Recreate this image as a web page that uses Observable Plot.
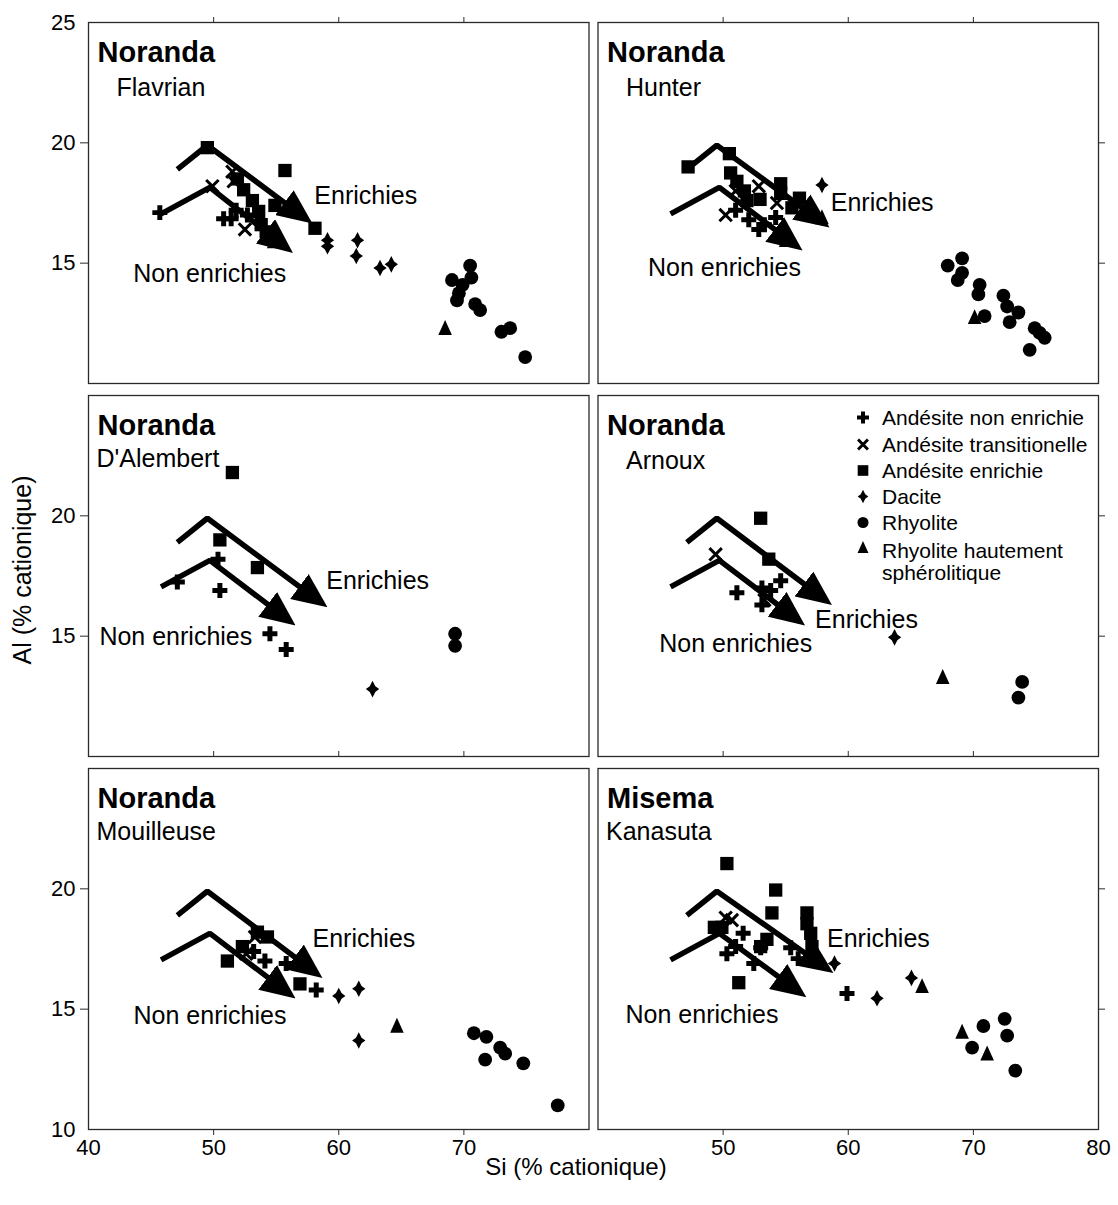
<!DOCTYPE html>
<html>
<head>
<meta charset="utf-8">
<script src="https://cdn.jsdelivr.net/npm/d3@7"></script>
<script src="https://cdn.jsdelivr.net/npm/@observablehq/plot@0.6"></script>
<style>
  body { margin: 0; background: #fff; font-family: 'Liberation Sans', Arial, Helvetica, sans-serif; }
  #wrap { position: relative; width: 1118px; height: 1205px; }
  #xtitle { position: absolute; left: 326px; width: 500px; top: 1152px; text-align: center; font-size: 24px; line-height: 30px; color: #000; }
  #ytitle { position: absolute; left: 22px; top: 570px; transform: translate(-50%, -50%) rotate(-90deg); font-size: 25px; white-space: nowrap; color: #000; }
</style>
</head>
<body>
<div id="wrap">
  <div id="chart"></div>
  <div id="xtitle">Si (% cationique)</div>
  <div id="ytitle">Al (% cationique)</div>
</div>
<script>
// ---------- data ----------
const panelGroups = ["Noranda", "Noranda", "Noranda", "Noranda", "Noranda", "Misema"];
const panelNames = ["Flavrian", "Hunter", "D'Alembert", "Arnoux", "Mouilleuse", "Kanasuta"];

const rockTypes = ["A", "T", "E", "D", "R", "S"];
const rockLabels = ["Andésite non enrichie", "Andésite transitionelle", "Andésite enrichie", "Dacite", "Rhyolite", "Rhyolite hautement\nsphérolitique"];

const xTicks = [50, 60, 70];
const yTicks = [15, 20];
const xLabelsLeft = [40, 50, 60, 70];
const xLabelsRight = [50, 60, 70, 80];

// [type, Si, Al]
const flavrian = [
  ["E",49.5,19.8],["E",55.7,18.85],["E",58.1,16.45],["E",51.9,18.5],["E",52.4,18.05],["E",53.1,17.6],["E",53.6,17.15],["E",53.8,16.6],["E",54.2,16.3],["E",54.9,17.4],
  ["A",45.7,17.1],["A",50.8,16.85],["A",51.4,16.85],["A",51.8,17.2],["A",52.7,17.0],
  ["T",49.9,18.2],["T",51.5,18.8],["T",51.6,18.4],["T",52.5,16.4],
  ["S",56.4,17.3],["S",54.8,15.9],["S",68.5,12.3],
  ["D",59.1,15.95],["D",59.1,15.7],["D",61.5,15.95],["D",61.4,15.3],["D",63.3,14.8],["D",64.2,14.95],
  ["R",69.05,14.3],["R",70.5,14.9],["R",70.6,14.4],["R",69.6,13.75],["R",69.45,13.45],["R",69.9,14.1],["R",70.9,13.3],["R",71.3,13.05],["R",73.0,12.15],["R",73.7,12.3],["R",74.9,11.1]
];
const hunter = [
  ["E",47.2,19.0],["E",50.5,19.55],["E",50.6,18.75],["E",51.1,18.4],["E",51.7,18.0],["E",52.95,17.65],["E",54.6,18.3],["E",54.6,17.9],["E",56.1,17.7],["E",55.5,17.3],["E",51.9,17.6],
  ["A",52.05,16.8],["A",52.85,16.4],["A",51.0,17.2],["A",54.2,16.9],["A",53.3,16.6],
  ["T",50.2,17.0],["T",51.0,18.0],["T",54.3,17.5],["T",52.85,18.2],
  ["D",57.9,18.25],
  ["S",57.1,17.3],["S",57.9,16.9],["S",55.0,15.95],["S",70.1,12.75],
  ["R",67.95,14.9],["R",69.1,15.2],["R",69.1,14.6],["R",68.75,14.3],["R",70.5,14.1],["R",70.4,13.7],["R",70.9,12.8],["R",72.4,13.65],["R",72.7,13.2],["R",73.6,12.95],["R",72.9,12.55],["R",74.9,12.3],["R",75.7,11.9],["R",74.5,11.4],["R",75.3,12.1]
];
const dalembert = [
  ["E",51.5,21.8],["E",50.5,19.0],["E",53.5,17.85],
  ["A",47.1,17.25],["A",50.35,18.2],["A",50.5,16.9],["A",54.5,15.1],["A",55.8,14.45],
  ["D",62.7,12.8],
  ["R",69.3,15.1],["R",69.3,14.6]
];
const arnoux = [
  ["E",53.0,19.9],["E",53.65,18.2],
  ["T",49.4,18.4],["T",53.3,16.5],
  ["A",51.1,16.8],["A",53.1,17.0],["A",53.1,16.3],["A",54.6,17.3],["A",53.8,16.9],
  ["D",63.7,14.95],
  ["S",67.55,13.3],
  ["R",73.9,13.1],["R",73.6,12.45]
];
const mouilleuse = [
  ["E",51.1,17.0],["E",52.3,17.6],["E",53.5,18.2],["E",54.3,18.0],["E",56.9,16.05],
  ["A",54.1,17.0],["A",55.8,16.9],["A",58.2,15.8],["A",53.2,17.4],
  ["T",53.3,18.0],["T",52.6,17.3],
  ["S",54.9,16.4],["S",64.65,14.3],
  ["D",60.0,15.55],["D",61.6,15.85],["D",61.6,13.7],
  ["R",70.8,14.0],["R",71.8,13.85],["R",72.9,13.4],["R",73.3,13.15],["R",71.7,12.9],["R",74.75,12.75],["R",77.5,11.0]
];
const kanasuta = [
  ["E",50.3,21.05],["E",54.2,19.95],["E",53.9,19.0],["E",49.3,18.4],["E",49.9,18.4],["E",51.25,16.1],["E",56.7,19.0],["E",56.7,18.55],["E",57.0,18.15],["E",57.1,17.6],["E",53.5,17.9],["E",53.0,17.6],
  ["T",50.2,18.8],["T",50.7,18.7],
  ["A",50.3,17.3],["A",51.6,18.15],["A",53.0,17.55],["A",52.45,16.9],["A",55.4,17.55],["A",59.9,15.65],["A",51.0,17.6],["A",56.0,17.1],
  ["D",58.9,16.9],["D",62.3,15.45],["D",65.05,16.3],
  ["S",65.9,15.95],["S",69.1,14.05],["S",71.1,13.15],
  ["R",70.8,14.3],["R",69.9,13.4],["R",72.5,14.6],["R",72.7,13.9],["R",73.35,12.45]
];
const panelPoints = [flavrian, hunter, dalembert, arnoux, mouilleuse, kanasuta];

// trend arrows: common start and bend, per-panel shaft end [Si, Al]
const enrichiesPath = [[47.1, 18.9], [49.5, 19.9]];
const enrichiesEnd = [[57.45, 16.82], [58.05, 16.65], [58.65, 16.37], [58.25, 16.47], [58.25, 16.47], [58.35, 16.67]];
const nonEnrichiesPath = [[45.8, 17.05], [49.7, 18.15]];
const nonEnrichiesEnd = [[55.9, 15.6], [55.9, 15.7], [56.1, 15.62], [56.1, 15.62], [56.1, 15.62], [56.2, 15.67]];

// annotation anchors [Si, Al] (text start, vertical middle)
const enrichiesLabel = [[58.05, 17.81], [58.6, 17.48], [59.0, 17.31], [57.35, 15.69], [57.9, 17.9], [58.3, 17.9]];
const nonEnrichiesLabel = [[43.58, 14.57], [44.0, 14.78], [40.87, 14.95], [44.9, 14.66], [43.6, 14.7], [42.2, 14.74]];

// ---------- derived tables ----------
const colOf = i => i % 2;
const rowOf = i => Math.floor(i / 2);

const points = panelPoints.flatMap((pts, i) =>
  pts.map(([type, si, al]) => ({panel: i, col: colOf(i), row: rowOf(i), type, si, al})));

const trends = [];
panelNames.forEach((_, i) => {
  [...enrichiesPath, enrichiesEnd[i]].forEach(([si, al]) => trends.push({col: colOf(i), row: rowOf(i), trend: "E" + i, si, al}));
  [...nonEnrichiesPath, nonEnrichiesEnd[i]].forEach(([si, al]) => trends.push({col: colOf(i), row: rowOf(i), trend: "N" + i, si, al}));
});

const annotations = panelNames.flatMap((_, i) => [
  {col: colOf(i), row: rowOf(i), si: enrichiesLabel[i][0], al: enrichiesLabel[i][1], text: "Enrichies"},
  {col: colOf(i), row: rowOf(i), si: nonEnrichiesLabel[i][0], al: nonEnrichiesLabel[i][1], text: "Non enrichies"}
]);

const panels = panelNames.map((name, i) => ({col: colOf(i), row: rowOf(i), group: panelGroups[i], name}));
const indentedNames = new Set(["Flavrian", "Hunter", "Arnoux"]);

const midTicks = [0, 1].flatMap(col => xTicks.map(x => ({col, row: 1, x})));
const bottomLabels = [
  ...xLabelsLeft.map(x => ({col: 0, row: 2, x})),
  ...xLabelsRight.map(x => ({col: 1, row: 2, x}))
];
const extraYLabels = [{col: 0, row: 0, y: 25}, {col: 0, row: 2, y: 10}];
const legendAnchor = [{col: 1, row: 1}];

// ---------- symbols ----------
const star4 = {
  draw(ctx, size) {
    const r = Math.sqrt(size / Math.PI);
    const a = r * 1.12, b = r * 0.9, c = r * 0.38;
    ctx.moveTo(0, -a); ctx.lineTo(c, -c); ctx.lineTo(b, 0); ctx.lineTo(c, c);
    ctx.lineTo(0, a); ctx.lineTo(-c, c); ctx.lineTo(-b, 0); ctx.lineTo(-c, -c); ctx.closePath();
  }
};
const tallTriangle = {
  draw(ctx, size) {
    const r = Math.sqrt(size / Math.PI);
    ctx.moveTo(0, -1.2 * r); ctx.lineTo(r, r); ctx.lineTo(-r, r); ctx.closePath();
  }
};
const symbolStyle = {
  A: {symbol: "cross", r: 6.3, fill: "black", stroke: "none"},
  T: {symbol: "times", r: 5.7, fill: "none", stroke: "black", strokeWidth: 3},
  E: {symbol: "square", r: 7.5, fill: "black", stroke: "none"},
  D: {symbol: star4, r: 7.4, fill: "black", stroke: "none"},
  R: {symbol: "circle", r: 6.9, fill: "black", stroke: "none"},
  S: {symbol: tallTriangle, r: 6.8, fill: "black", stroke: "none"}
};

// ---------- layout ----------
const W = 1118, H = 1165;
const mLeft = 88, mRight = 20, mTop = 22, frameBottom = 1129;
const colGap = 9, rowGap = 12;
const facetW = (W - mLeft - mRight - colGap) / 2;
const facetH = (frameBottom - mTop - 2 * rowGap) / 3;
const fontStack = "'Liberation Sans', Arial, Helvetica, sans-serif";

const legendDy = [22, 49, 75, 101, 127, 166];

const marks = [
  Plot.frame({stroke: "#2a2a2a", strokeWidth: 1.3}),
  // ticks
  Plot.axisX(xTicks, {anchor: "top", facetAnchor: "top", tickSize: 6, tickFormat: () => "", label: null, stroke: "#2a2a2a"}),
  Plot.axisX(xTicks, {anchor: "bottom", facetAnchor: "bottom", tickSize: 6, tickFormat: () => "", label: null, stroke: "#2a2a2a"}),
  Plot.ruleX(midTicks, {x: "x", fx: "col", fy: "row", insetTop: facetH - 5, stroke: "#2a2a2a"}),
  Plot.axisY(yTicks, {anchor: "left", facetAnchor: "left", tickSize: 8, tickPadding: 5, fontSize: 22, label: null, stroke: "#2a2a2a"}),
  Plot.axisY(yTicks, {anchor: "right", facetAnchor: "right", tickSize: 6, tickFormat: () => "", label: null, stroke: "#2a2a2a"}),
  Plot.text(extraYLabels, {fx: "col", fy: "row", y: "y", text: d => String(d.y), frameAnchor: "left", dx: -13, textAnchor: "end", lineAnchor: "middle", fontSize: 22}),
  Plot.text(bottomLabels, {fx: "col", fy: "row", x: "x", text: d => String(d.x), frameAnchor: "bottom", dy: 18, lineAnchor: "middle", fontSize: 22}),
  // trend arrows
  Plot.line(trends, {x: "si", y: "al", z: "trend", fx: "col", fy: "row", stroke: "black", strokeWidth: 5.5, strokeLinejoin: "miter", strokeLinecap: "butt"}),
  // data points
  ...rockTypes.map(t => Plot.dot(points.filter(d => d.type === t), {x: "si", y: "al", fx: "col", fy: "row", ...symbolStyle[t]})),
  // annotations
  Plot.text(annotations, {x: "si", y: "al", fx: "col", fy: "row", text: "text", textAnchor: "start", lineAnchor: "middle", fontSize: 25}),
  // panel titles
  Plot.text(panels, {fx: "col", fy: "row", text: "group", frameAnchor: "top-left", dx: 9, dy: 39, lineAnchor: "bottom", textAnchor: "start", fontSize: 29, fontWeight: "bold"}),
  Plot.text(panels.filter(d => indentedNames.has(d.name)), {fx: "col", fy: "row", text: "name", frameAnchor: "top-left", dx: 28, dy: 73, lineAnchor: "bottom", textAnchor: "start", fontSize: 25}),
  Plot.text(panels.filter(d => !indentedNames.has(d.name)), {fx: "col", fy: "row", text: "name", frameAnchor: "top-left", dx: 8, dy: 71, lineAnchor: "bottom", textAnchor: "start", fontSize: 25}),
  // legend (in Arnoux panel)
  ...rockTypes.map((t, i) => {
    const s = symbolStyle[t];
    return Plot.dot(legendAnchor, {fx: "col", fy: "row", frameAnchor: "top-left", dx: 265, dy: i === 5 ? 152 : legendDy[i], ...s, r: s.r * 0.8});
  }),
  ...rockTypes.map((t, i) => Plot.text(legendAnchor, {
    fx: "col", fy: "row", frameAnchor: "top-left", dx: 284, dy: legendDy[i],
    text: () => rockLabels[i], textAnchor: "start", lineAnchor: "middle", lineHeight: 1.05, fontSize: 21
  }))
];

const svg = Plot.plot({
  width: W,
  height: H,
  marginLeft: mLeft,
  marginRight: mRight,
  marginTop: mTop,
  marginBottom: H - frameBottom,
  style: {fontFamily: fontStack, fontSize: "20px", background: "white", color: "black", overflow: "visible"},
  x: {domain: [40, 80]},
  y: {domain: [10, 25]},
  fx: {domain: [0, 1], paddingInner: colGap / (facetW + colGap), paddingOuter: 0, round: false, axis: null, label: null},
  fy: {domain: [0, 1, 2], paddingInner: rowGap / (facetH + rowGap), paddingOuter: 0, round: false, axis: null, label: null},
  marks
});

// filled arrowheads on the trend lines
const root = d3.select(svg);
const defs = root.insert("defs", ":first-child");
defs.append("marker")
  .attr("id", "arrowhead")
  .attr("viewBox", "0 0 35 31")
  .attr("refX", 28)
  .attr("refY", 15.5)
  .attr("markerWidth", 35)
  .attr("markerHeight", 31)
  .attr("markerUnits", "userSpaceOnUse")
  .attr("orient", "auto")
  .append("path")
  .attr("d", "M0,0L35,15.5L0,31Z")
  .attr("fill", "black");
root.selectAll('g[aria-label="line"] path').attr("marker-end", "url(#arrowhead)");

document.getElementById("chart").appendChild(svg);
</script>
</body>
</html>
